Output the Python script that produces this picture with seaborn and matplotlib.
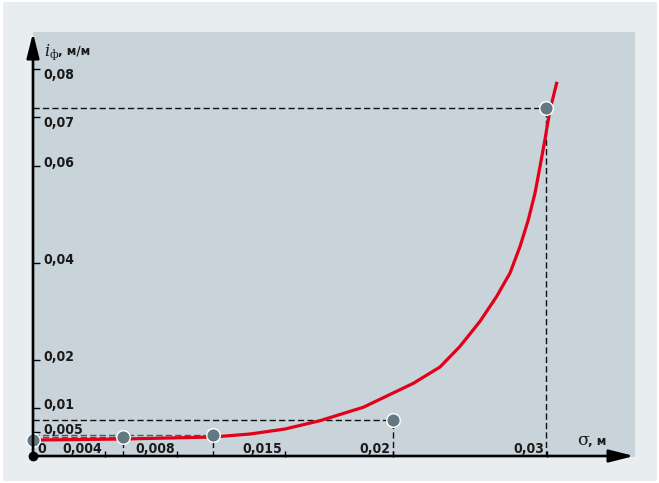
import matplotlib
matplotlib.use('Agg')
import matplotlib.pyplot as plt
from matplotlib import font_manager as fm
import seaborn as sns
import pandas as pd
from matplotlib.patches import Rectangle

# ---- data ----
curve_sigma = [0.00022, 0.005, 0.01, 0.01206, 0.014, 0.01594, 0.01835, 0.02113,
               0.02261, 0.02372, 0.02483, 0.02576, 0.0265, 0.02706, 0.02752,
               0.02789, 0.02817, 0.02844, 0.02872, 0.02909]
curve_i = [0.00344, 0.00365, 0.00406, 0.00468, 0.00571, 0.00742, 0.01019, 0.01513,
           0.01849, 0.02274, 0.02789, 0.03305, 0.03787, 0.04337, 0.04887,
           0.05437, 0.05987, 0.06536, 0.07148, 0.07699]

point_sigma = [0.0, 0.005, 0.01, 0.02, 0.0285]
point_i = [0.0034, 0.0041, 0.0045, 0.0075, 0.072]

xtick_vals = [0.004, 0.008, 0.014, 0.02, 0.02856]
xtick_labels = ['0,004', '0,008', '0,015', '0,02', '0,03']
ytick_vals = [0.005, 0.01, 0.02, 0.04, 0.06, 0.07, 0.08]
ytick_labels = ['0,005', '0,01', '0,02', '0,04', '0,06', '0,07', '0,08']

plt.rcParams['mathtext.fontset'] = 'dejavuserif'

# ---- pick a condensed bold face if one is installed ----
names = {f.name for f in fm.fontManager.ttflist}
cond_dejavu = any(f.name == 'DejaVu Sans' and 'condensed' in str(f.stretch).lower()
                  for f in fm.fontManager.ttflist)
if 'Liberation Sans Narrow' in names:
    num_kw = dict(family=['Liberation Sans Narrow', 'DejaVu Sans'], fontsize=10.5)
elif cond_dejavu:
    num_kw = dict(family=['DejaVu Sans'], fontstretch='condensed', fontsize=10)
else:
    num_kw = dict(family=['Liberation Sans', 'DejaVu Sans'], fontsize=9.8)

# ---- figure ----
W, H = 659, 483
fig = plt.figure(figsize=(W / 100, H / 100), dpi=100, facecolor='white')
fig.patches.append(Rectangle((3, 2), 654, 479, transform=None,
                             facecolor='#e8edf0', edgecolor='none', zorder=-10))

left, right, top, bottom = 33, 635, 32, 456.7
ax = fig.add_axes([left / W, (H - bottom) / H, (right - left) / W, (bottom - top) / H])
ax.set_zorder(1)
ax.set_facecolor('#c8d3da')
ax.set_xlim(0, (right - left) / 18000)
ax.set_ylim(0, (bottom - top) / 4850)
for s in ax.spines.values():
    s.set_visible(False)

txt_col = '#1a1a1a'

# dashed guide lines
dash = (0, (4.5, 2.3))
for k, (xs, yi) in enumerate(zip(point_sigma, point_i)):
    if k == 0:
        continue
    col = '#555555' if k in (1, 2) else '#111111'
    ax.plot([0, xs], [yi, yi], color=col, lw=1.0, ls=dash, zorder=1)
    ax.plot([xs, xs], [0, yi], color='#111111', lw=1.0, ls=dash, zorder=1)

# curve and points
curve_df = pd.DataFrame({'sigma': curve_sigma, 'i': curve_i})
pts_df = pd.DataFrame({'sigma': point_sigma, 'i': point_i})
sns.lineplot(data=curve_df, x='sigma', y='i', ax=ax, color='#e2001a', lw=2.3,
             sort=False, zorder=2)
ax.lines[-1].set_solid_joinstyle('round')
sns.scatterplot(data=pts_df, x='sigma', y='i', ax=ax, s=95, color='#647884',
                edgecolor='white', linewidth=1.0, zorder=4, clip_on=False)
ax.set_xlabel('')
ax.set_ylabel('')

# axes with arrows
ytip = (bottom - 33) / 4850
xtip = (634 - left) / 18000
ax.annotate('', xy=(0, ytip), xytext=(0, -0.0002),
            arrowprops=dict(arrowstyle='-|>,head_length=1.5,head_width=0.38',
                            lw=1.9, color='black', shrinkA=0, shrinkB=0),
            annotation_clip=False, zorder=5)
ax.annotate('', xy=(xtip, 0.00014), xytext=(0, 0.00014),
            arrowprops=dict(arrowstyle='-|>,head_length=1.5,head_width=0.38',
                            lw=1.9, color='black', shrinkA=0, shrinkB=0),
            annotation_clip=False, zorder=5)
ax.plot([0], [0.0001], 'o', color='black', ms=6, clip_on=False, zorder=6)

# ticks
ax.set_xticks(xtick_vals)
ax.set_yticks(ytick_vals)
ax.set_xticklabels([])
ax.set_yticklabels([])
ax.tick_params(axis='x', direction='in', length=4.3, width=1.0, color='black', bottom=True)
ax.tick_params(axis='y', direction='in', length=5.0, width=1.0, color='black', left=True)

for v, lab in zip(xtick_vals, xtick_labels):
    ax.annotate(lab, (v, 0), xytext=(-1.8, 2.8), textcoords='offset points',
                ha='right', va='baseline', fontweight='bold',
                color=txt_col, annotation_clip=False, **num_kw)
ax.annotate('0', (0, 0), xytext=(3.4, 2.8), textcoords='offset points',
            ha='left', va='baseline', fontweight='bold',
            color=txt_col, annotation_clip=False, **num_kw)
# the two top labels hang below their tick, the rest sit on it
hanging = ytick_labels[-2:]
for v, lab in zip(ytick_vals, ytick_labels):
    dy = -7.3 if lab in hanging else -0.9
    ax.annotate(lab, (0, v), xytext=(7.5, dy), textcoords='offset points',
                ha='left', va='baseline', fontweight='bold',
                color=txt_col, annotation_clip=False, **num_kw)

# axis titles (figure pixel coordinates)
def ftxt(x, y_img, s, **kw):
    ax.annotate(s, (x, H - y_img), xycoords='figure pixels', ha='left',
                va='baseline', color=txt_col, annotation_clip=False, **kw)

ftxt(43.5, 55, r'$i_{\mathrm{ф}}$', fontsize=11.5)
ftxt(58.5, 55, ', м/м', fontsize=8.5, family='DejaVu Sans', fontweight='bold')
ftxt(577, 445, 'σ', fontsize=12.5, family='DejaVu Serif')
ftxt(588.5, 445, ', м', fontsize=8.5, family='DejaVu Sans', fontweight='bold')

fig.savefig('out.png', dpi=100, facecolor=fig.get_facecolor())
